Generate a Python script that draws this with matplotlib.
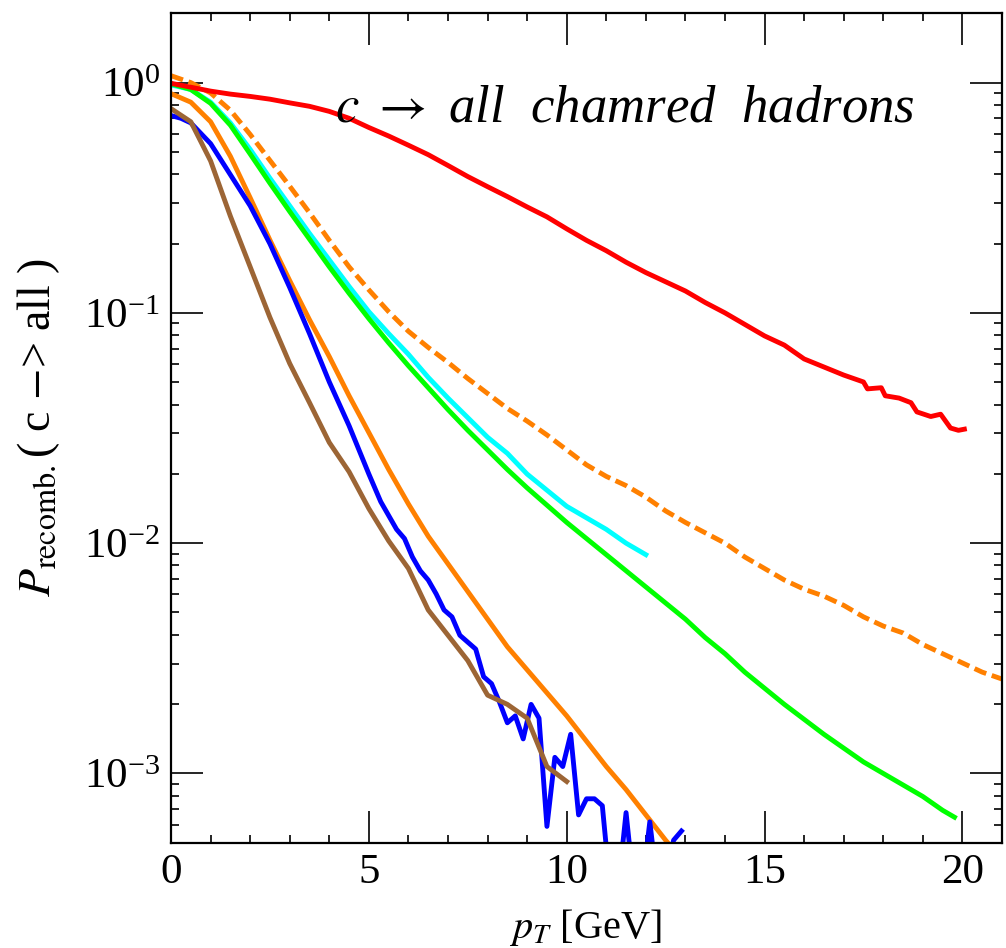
import numpy as np
import matplotlib.pyplot as plt
from matplotlib.ticker import LogLocator, MultipleLocator, NullFormatter

plt.rcParams['font.family'] = ['Liberation Serif', 'DejaVu Serif']
plt.rcParams['mathtext.fontset'] = 'stix'

# values, stored as log10(P)
red_x = [0, 0.5, 1, 1.5, 2, 2.5, 3, 3.5, 4, 4.5, 5, 5.5, 6, 6.5, 7, 7.5, 8, 8.5, 9, 9.5,
         10, 10.5, 11, 11.5, 12, 12.5, 13, 13.5, 14, 14.5, 15, 15.5, 16, 16.5, 17, 17.5,
         17.6, 17.95, 18.05, 18.4, 18.7, 18.85, 19.2, 19.45, 19.7, 19.9, 20.05]
red_log = [-0.003, -0.02, -0.037, -0.05, -0.06, -0.072, -0.088, -0.103, -0.125, -0.155,
           -0.195, -0.232, -0.272, -0.313, -0.36, -0.408, -0.452, -0.495, -0.54, -0.583,
           -0.635, -0.685, -0.73, -0.78, -0.825, -0.865, -0.905, -0.955, -1.0, -1.05,
           -1.10, -1.14, -1.20, -1.235, -1.27, -1.30, -1.33, -1.325, -1.36, -1.37,
           -1.39, -1.43, -1.45, -1.44, -1.50, -1.51, -1.505]

dash_x = [0, 0.5, 1, 1.5, 2, 2.5, 3, 3.5, 4, 4.5, 5, 5.5, 6, 6.5, 7, 7.5, 8, 8.5, 9, 9.5,
          10, 10.5, 11, 11.5, 12, 12.5, 13, 13.5, 14, 14.5, 15, 15.5, 16, 16.5, 17, 17.5,
          18, 18.5, 19, 19.5, 20, 20.5, 21]
dash_log = [0.03, 0.0, -0.045, -0.12, -0.225, -0.338, -0.45, -0.565, -0.685, -0.80, -0.9,
            -0.995, -1.08, -1.15, -1.215, -1.285, -1.35, -1.415, -1.47, -1.53, -1.595, -1.66,
            -1.71, -1.75, -1.80, -1.86, -1.91, -1.955, -2.0, -2.06, -2.11, -2.16, -2.2,
            -2.23, -2.27, -2.32, -2.36, -2.39, -2.44, -2.48, -2.52, -2.56, -2.59]

green_x = [0, 0.5, 1, 1.5, 2, 2.5, 3, 3.5, 4, 4.5, 5, 5.5, 6, 6.5, 7, 7.5, 8, 8.5, 9, 9.5,
           10, 10.5, 11, 11.5, 12, 12.5, 13, 13.5, 14, 14.5, 15, 15.5, 16, 16.5, 17, 17.5,
           18, 18.5, 19, 19.5, 19.8]
green_log = [-0.005, -0.03, -0.09, -0.185, -0.31, -0.437, -0.56, -0.68, -0.80, -0.915, -1.025,
             -1.13, -1.23, -1.325, -1.42, -1.51, -1.595, -1.68, -1.76, -1.835, -1.91, -1.98,
             -2.05, -2.12, -2.19, -2.26, -2.33, -2.41, -2.48, -2.56, -2.63, -2.70, -2.765,
             -2.83, -2.89, -2.95, -3.0, -3.05, -3.10, -3.16, -3.19]

cyan_x = [0, 0.5, 1, 1.5, 2, 2.5, 3, 3.5, 4, 4.5, 5, 5.5, 6, 6.5, 7, 7.5, 8, 8.5, 9, 9.5,
          10, 10.5, 11, 11.5, 12]
cyan_log = [-0.01, -0.03, -0.085, -0.175, -0.29, -0.415, -0.535, -0.655, -0.77, -0.885,
            -0.995, -1.09, -1.18, -1.28, -1.37, -1.455, -1.54, -1.61, -1.70, -1.77, -1.84,
            -1.89, -1.94, -2.0, -2.05]

orange_x = [0, 0.5, 1, 1.5, 2, 2.5, 3, 3.5, 4, 4.5, 5, 5.5, 6, 6.5, 7, 7.5, 8, 8.5, 9, 9.5,
            10, 10.5, 11, 11.5, 12, 12.5, 13]
orange_log = [-0.048, -0.085, -0.17, -0.32, -0.50, -0.684, -0.86, -1.03, -1.19, -1.36, -1.52,
              -1.68, -1.83, -1.97, -2.09, -2.21, -2.33, -2.45, -2.55, -2.65, -2.75, -2.86,
              -2.97, -3.07, -3.18, -3.29, -3.39]

blue_x = [0, 0.25, 0.5, 0.75, 1, 1.5, 2, 2.5, 3, 3.5, 4, 4.5, 5, 5.3, 5.5, 5.7, 5.9, 6.1,
          6.3, 6.5, 6.7, 6.9, 7.1, 7.3, 7.5, 7.7, 7.9, 8.1, 8.3, 8.5, 8.7, 8.9, 9.1, 9.3,
          9.5, 9.7, 9.9, 10.1, 10.3, 10.5, 10.7, 10.9, 11.1, 11.3, 11.5, 11.7, 11.9, 12.1,
          12.3, 12.5, 12.7, 12.9]
blue_log = [-0.143, -0.155, -0.175, -0.22, -0.265, -0.40, -0.535, -0.70, -0.89, -1.09, -1.30,
            -1.49, -1.70, -1.82, -1.88, -1.94, -1.98, -2.06, -2.12, -2.16, -2.22, -2.29,
            -2.32, -2.40, -2.43, -2.46, -2.58, -2.61, -2.69, -2.78, -2.75, -2.85, -2.70,
            -2.76, -3.23, -2.93, -2.97, -2.83, -3.18, -3.11, -3.11, -3.14, -3.5, -3.5,
            -3.17, -3.5, -3.5, -3.21, -3.5, -3.5, -3.29, -3.25]

brown_x = [0, 0.5, 1, 1.5, 2, 2.5, 3, 3.5, 4, 4.5, 5, 5.5, 6, 6.5, 7, 7.5, 8, 8.5, 9, 9.5, 10]
brown_log = [-0.113, -0.17, -0.34, -0.58, -0.80, -1.02, -1.22, -1.39, -1.563, -1.69, -1.85,
             -1.99, -2.11, -2.29, -2.40, -2.51, -2.66, -2.70, -2.76, -2.97, -3.035]

fig = plt.figure(figsize=(10.06, 9.48), dpi=100)
ax = fig.add_axes([0.170, 0.111, 0.826, 0.875])

lw = 3.5
ax.plot(cyan_x, 10**np.array(cyan_log), color='#00ffff', lw=lw)
ax.plot(green_x, 10**np.array(green_log), color='#00ff00', lw=lw)
ax.plot(orange_x, 10**np.array(orange_log), color='#ff8000', lw=lw)
ax.plot(blue_x, 10**np.array(blue_log), color='#0000ff', lw=lw)
ax.plot(brown_x, 10**np.array(brown_log), color='#9c6535', lw=lw)
ax.plot(dash_x, 10**np.array(dash_log), color='#ff8000', lw=lw, dashes=(2.6, 1.2))
ax.plot(red_x, 10**np.array(red_log), color='#ff0000', lw=lw)

ax.set_yscale('log')
ax.set_xlim(0, 21)
ax.set_ylim(5e-4, 2.0)
ax.xaxis.set_major_locator(MultipleLocator(5))
ax.xaxis.set_minor_locator(MultipleLocator(1))
ax.yaxis.set_major_locator(LogLocator(base=10, numticks=10))
ax.yaxis.set_minor_locator(LogLocator(base=10, subs=np.arange(2, 10), numticks=10))
ax.yaxis.set_minor_formatter(NullFormatter())

ax.tick_params(which='both', direction='in', top=True, right=True, width=1.2, labelsize=31)
ax.tick_params(which='major', length=23, pad=8)
ax.tick_params(which='minor', length=6)
for s in ax.spines.values():
    s.set_linewidth(1.6)

ax.set_xlabel(r'$p_T$ [GeV]', fontsize=29)
ax.xaxis.set_label_coords(0.499, -0.078)
ax.set_ylabel(r'$P_{\rm recomb.}$( c $-$> all )', fontsize=33)
ax.yaxis.set_label_coords(-0.131, 0.5)

ax.text(0.197, 0.869, r'$c\ \rightarrow$ all  chamred  hadrons', transform=ax.transAxes,
        fontsize=38, fontstyle='italic', va='baseline', ha='left')

fig.savefig('out.png', dpi=100)
